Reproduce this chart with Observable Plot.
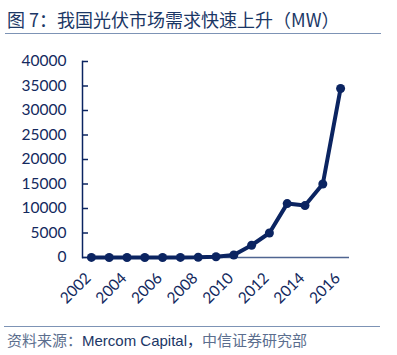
<!DOCTYPE html>
<html><head><meta charset="utf-8">
<script src="https://cdn.jsdelivr.net/npm/d3@7"></script>
<script src="https://cdn.jsdelivr.net/npm/@observablehq/plot@0.6"></script>
<style>
body{margin:0;background:#fff;width:397px;height:355px;position:relative;overflow:hidden;font-family:"Noto Sans CJK SC",sans-serif}
#title{position:absolute;left:7px;top:8px;font-size:18px;color:#1b3766;white-space:nowrap;line-height:22px}
#trule{position:absolute;left:5px;top:33px;width:376px;height:0;border-top:1.5px solid #7d93b5}
#chart{position:absolute;left:0;top:0}
#chart svg text{font-family:Lato,sans-serif;font-size:15.5px;fill:#13295e}
#frule{position:absolute;left:4px;top:326px;width:376px;height:0;border-top:1.5px solid #7d93b5}
#source{position:absolute;left:7px;top:330px;font-size:15px;white-space:nowrap;line-height:20px;color:#5b6e8e}
#source .dark{color:#1b3766;font-family:"Liberation Sans",sans-serif}
</style></head>
<body>
<div id="title">图 7：我国光伏市场需求快速上升（MW）</div>
<div id="trule"></div>
<div id="chart"></div>
<div id="frule"></div>
<div id="source">资料来源：<span class="dark">Mercom Capital</span><span style="color:#1b3766">，</span>中信证券研究部</div>
<script>
const years = [2002,2003,2004,2005,2006,2007,2008,2009,2010,2011,2012,2013,2014,2015,2016];
const demandMW = [20,10,10,10,10,20,40,160,500,2500,5000,11000,10600,15000,34500];
const yTicks = [0,5000,10000,15000,20000,25000,30000,35000,40000];
const xTicks = [2002,2004,2006,2008,2010,2012,2014,2016];
const navy = "#0b2461";
const data = years.map((y,i)=>({year:y, mw:demandMW[i]}));
const chart = Plot.plot({
  width:397, height:320,
  marginLeft:82, marginRight:48, marginTop:61, marginBottom:63,
  style:{fontFamily:"Lato, sans-serif", fontSize:"15.5px", color:"#13295e", background:"transparent", overflow:"visible"},
  x:{type:"point", domain:years, padding:0.5, round:false, label:null},
  y:{domain:[0,40000], label:null},
  marks:[
    Plot.ruleY([0],{stroke:"#4f6591", strokeWidth:1.5}),
    Plot.frame({anchor:"left", stroke:navy, strokeWidth:1.5}),
    Plot.axisY({ticks:yTicks, tickSize:0, tickPadding:16, tickFormat:d=>String(d), label:null}),
    Plot.axisY({ticks:yTicks, tickSize:6, dx:6, tickFormat:()=>"", stroke:navy, strokeWidth:1.5, label:null}),
    Plot.axisX({ticks:xTicks, tickSize:0, tickRotate:-45, tickPadding:18, dx:-3, tickFormat:d=>String(d), label:null}),
    Plot.line(data,{x:"year", y:"mw", stroke:navy, strokeWidth:4}),
    Plot.dot(data,{x:"year", y:"mw", r:4.5, fill:navy})
  ]
});
document.getElementById("chart").appendChild(chart);
</script>
</body></html>
